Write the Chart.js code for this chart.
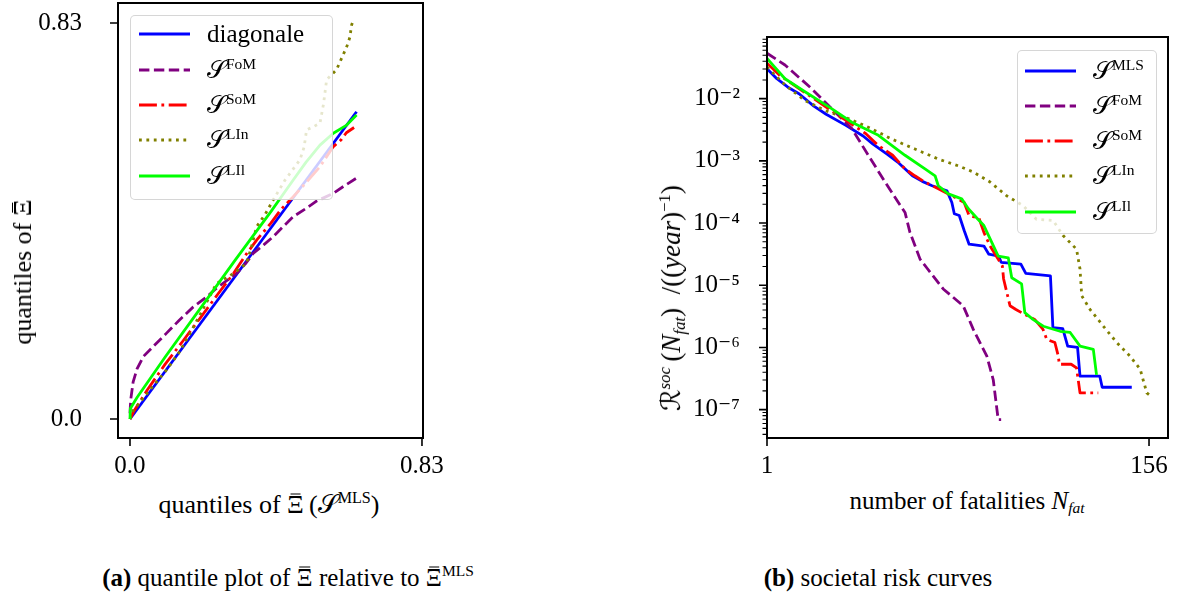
<!DOCTYPE html>
<html>
<head>
<meta charset="utf-8">
<script src="https://cdn.jsdelivr.net/npm/chart.js@4.4.1/dist/chart.umd.min.js"></script>
<style>
  html, body { margin: 0; padding: 0; background: #fff; }
  body { width: 1183px; height: 597px; position: relative; overflow: hidden;
         font-family: 'Liberation Serif', 'DejaVu Serif', serif; color: #000; }
  canvas { position: absolute; }
  .txt { position: absolute; white-space: nowrap; font-size: 25px; line-height: 1;
         transform: translate(-50%, -50%); }
  .rot { transform: translate(-50%, -50%) rotate(-90deg); }
  .legend { position: absolute; background: rgba(255,255,255,0.8);
            border: 1.5px solid rgba(204,204,204,0.8); border-radius: 5px; box-sizing: border-box; }
  .row { position: absolute; left: 0; height: 34px; margin-top: -17px;
         font-size: 25px; white-space: nowrap; line-height: 34px; }
  .row svg { position: absolute; top: 0; }
  .row .lt { position: absolute; top: 0; }
  sup { font-size: 62%; vertical-align: 0.6em; line-height: 0; }
  sub { font-size: 62%; vertical-align: -0.3em; line-height: 0; }
  .scr { font-family: 'DejaVu Serif', 'DejaVu Sans', serif; }
  .ov { position: relative; display: inline-block; line-height: 1; }
  .ov::after { content: ''; position: absolute; left: 18%; right: 18%; top: 0.06em;
               border-top: 1.4px solid #000; }
</style>
</head>
<body>
<canvas id="qq" width="470" height="480" style="left:0;top:0;width:470px;height:480px"></canvas>
<canvas id="risk" width="503" height="480" style="left:680px;top:0;width:503px;height:480px"></canvas>

<div class="txt rot" data-cx="23" data-cy="272" style="font-size:26px">quantiles of <span class="ov">Ξ</span></div>
<div class="txt" data-cx="269" data-cy="504" style="font-size:26px">quantiles of <span class="ov">Ξ</span>&thinsp;(<span class="scr">𝒮</span><sup>MLS</sup>)</div>
<div class="txt rot" data-cx="671" data-cy="298" style="font-size:27px"><span class="scr">ℛ</span><sup><i>soc</i></sup>&thinsp;(<i>N</i><sub><i>fat</i></sub>)&ensp;/((<i>year</i>)<sup>−1</sup>)</div>
<div class="txt" data-cx="967" data-cy="500">number of fatalities <i>N</i><sub><i>fat</i></sub></div>
<div class="txt" data-cx="288" data-cy="577"><b>(a)</b> quantile plot of <span class="ov">Ξ</span> relative to <span class="ov">Ξ</span><sup>MLS</sup></div>
<div class="txt" data-cx="878" data-cy="577"><b>(b)</b> societal risk curves</div>

<div id="legA" class="legend" style="left:130px;top:15px;width:203px;height:185px"></div>
<div id="legB" class="legend" style="left:1017px;top:50px;width:140px;height:184px"></div>

<script>
// ---------- panel (a): quantile plot of Xi-bar against the MLS quantiles ----------
const qTicks = [0, 0.83];
const qTickLabels = ['0.0', '0.83'];

const diagX = [0, 0.644];
const diagY = [0, 0.644];

const fomQX = [0, 0.002, 0.009, 0.02, 0.038, 0.066, 0.104, 0.14, 0.18, 0.218, 0.246, 0.275, 0.303, 0.33, 0.35, 0.38, 0.407, 0.435, 0.464, 0.5, 0.531, 0.555, 0.578, 0.61, 0.644];
const fomQY = [0.012, 0.04, 0.078, 0.105, 0.131, 0.152, 0.18, 0.207, 0.235, 0.256, 0.274, 0.29, 0.305, 0.327, 0.347, 0.365, 0.382, 0.403, 0.424, 0.441, 0.457, 0.465, 0.473, 0.489, 0.505];

const somQX = [0, 0.01, 0.05, 0.1, 0.15, 0.2, 0.25, 0.294, 0.33, 0.36, 0.4, 0.43, 0.459, 0.5, 0.54, 0.578, 0.6, 0.615, 0.637];
const somQY = [0, 0.015, 0.062, 0.115, 0.163, 0.212, 0.262, 0.305, 0.345, 0.375, 0.41, 0.44, 0.462, 0.495, 0.529, 0.571, 0.585, 0.6, 0.611];

const linQX = [0, 0.01, 0.05, 0.104, 0.14, 0.171, 0.2, 0.246, 0.294, 0.331, 0.345, 0.36, 0.385, 0.407, 0.44, 0.483, 0.495, 0.502, 0.52, 0.54, 0.55, 0.559, 0.587, 0.616, 0.625, 0.63, 0.632];
const linQY = [0, 0.019, 0.055, 0.103, 0.14, 0.18, 0.22, 0.284, 0.305, 0.326, 0.36, 0.403, 0.43, 0.459, 0.5, 0.543, 0.57, 0.606, 0.612, 0.62, 0.66, 0.711, 0.732, 0.78, 0.8, 0.826, 0.83];

const lilQX = [0, 0.001, 0.02, 0.1, 0.2, 0.3, 0.4, 0.464, 0.5, 0.54, 0.578, 0.616, 0.644];
const lilQY = [0, 0.022, 0.045, 0.13, 0.232, 0.334, 0.434, 0.501, 0.538, 0.574, 0.599, 0.616, 0.637];

// ---------- panel (b): societal risk curves ----------
const nTicks = [1, 156];
const nTickLabels = ['1', '156'];
const riskDecades = [1e-7, 1e-6, 1e-5, 1e-4, 1e-3, 1e-2];
const riskDecadeLabels = ['10⁻⁷', '10⁻⁶', '10⁻⁵', '10⁻⁴', '10⁻³', '10⁻²'];

const mlsN = [1, 5, 10, 14, 20, 25, 33, 40, 44, 50, 54, 60, 64, 68, 74, 76, 77, 79, 81, 83, 89, 91, 95, 96, 104, 106, 116, 117, 121, 123, 127, 128, 136, 137, 149];
const mlsR = [3.02e-2, 2.09e-2, 1.48e-2, 1.20e-2, 7.59e-3, 5.62e-3, 3.72e-3, 2.51e-3, 1.86e-3, 1.26e-3, 9.55e-4, 5.75e-4, 4.68e-4, 3.98e-4, 3.31e-4, 2.14e-4, 1.41e-4, 1.32e-4, 7.59e-5, 4.57e-5, 4.27e-5, 3.16e-5, 2.95e-5, 2.34e-5, 2.19e-5, 1.55e-5, 1.41e-5, 2.09e-6, 2.00e-6, 1.05e-6, 1.00e-6, 3.47e-7, 3.47e-7, 2.29e-7, 2.29e-7];

const fomN = [1, 8.3, 19.1, 27.2, 35.4, 42.1, 48.9, 54.3, 57, 59, 63.1, 65.8, 72.5, 80.6, 84.7, 90.2, 92.8, 94.8, 96];
const fomR = [5.37e-2, 3.47e-2, 1.45e-2, 6.92e-3, 3.31e-3, 1.23e-3, 4.57e-4, 2.14e-4, 1.48e-4, 7.08e-5, 2.63e-5, 1.91e-5, 8.71e-6, 4.68e-6, 1.95e-6, 7.24e-7, 3.02e-7, 6.92e-8, 6.92e-8];

const somN = [1, 6, 14, 20, 27, 35, 41, 46, 52, 57, 61, 65, 70.5, 76, 81, 83, 87, 89, 91.5, 94, 96.5, 97, 99.6, 102, 105.6, 109.6, 113, 114.5, 117.8, 119.2, 119.6, 124.4, 126.6, 128, 135.4];
const somR = [3.72e-2, 2.40e-2, 1.45e-2, 1.00e-2, 6.46e-3, 3.98e-3, 2.75e-3, 1.78e-3, 1.23e-3, 7.41e-4, 5.75e-4, 4.57e-4, 3.55e-4, 2.75e-4, 2.14e-4, 1.32e-4, 1.20e-4, 7.08e-5, 4.27e-5, 2.95e-5, 2.04e-5, 1.26e-5, 4.68e-6, 4.07e-6, 3.39e-6, 2.82e-6, 1.95e-6, 1.35e-6, 1.20e-6, 7.24e-7, 5.37e-7, 5.37e-7, 4.68e-7, 1.86e-7, 1.86e-7];

const linN = [1, 8.3, 16.4, 24.5, 34, 42.1, 51.6, 61, 70.5, 78.6, 84.7, 91.5, 98.2, 104.9, 110.3, 117.1, 121.1, 126.6, 128, 128.7, 132.1, 137.5, 142.9, 148.3, 152.4, 155.1, 156];
const linR = [3.24e-2, 1.66e-2, 9.33e-3, 6.46e-3, 4.79e-3, 3.47e-3, 2.24e-3, 1.55e-3, 1.07e-3, 8.32e-4, 6.61e-4, 4.57e-4, 2.75e-4, 1.91e-4, 1.15e-4, 1.10e-4, 6.31e-5, 3.80e-5, 1.82e-5, 6.76e-6, 4.07e-6, 2.19e-6, 1.20e-6, 7.24e-7, 4.47e-7, 1.86e-7, 1.74e-7];

const lilN = [1, 8.3, 16.4, 27.2, 35.4, 46.2, 57, 65.1, 69.2, 70.5, 74.6, 80, 82.7, 86.6, 89, 92.2, 94.8, 98.9, 100.3, 104.3, 105.6, 108.9, 113.1, 119.9, 124, 128, 133.4, 134.7];
const lilR = [4.42e-2, 2.09e-2, 1.29e-2, 6.92e-3, 4.17e-3, 2.57e-3, 1.23e-3, 7.41e-4, 5.75e-4, 3.98e-4, 2.95e-4, 2.45e-4, 1.70e-4, 1.15e-4, 9.12e-5, 4.90e-5, 2.95e-5, 2.75e-5, 1.32e-5, 1.05e-5, 3.63e-6, 2.82e-6, 2.19e-6, 1.82e-6, 1.74e-6, 1.05e-6, 9.33e-7, 3.63e-7];

// ---------- line styles ----------
const LW = 2.8;
const styles = {
  mls: { color: '#0000ff', dash: [] },
  fom: { color: '#800080', dash: [10.4, 4.5] },
  som: { color: '#ff0000', dash: [17.9, 4.5, 2.8, 4.5] },
  lin: { color: '#808000', dash: [2.8, 4.6] },
  lil: { color: '#00ff00', dash: [] }
};

const FONT = "'Liberation Serif', 'DejaVu Serif', serif";

function series(xs, ys, st, label, order) {
  return {
    label,
    data: xs.map((x, i) => ({ x, y: ys[i] })),
    borderColor: st.color,
    borderDash: st.dash,
    borderWidth: LW,
    borderCapStyle: 'butt',
    borderJoinStyle: 'round',
    pointRadius: 0,
    fill: false,
    tension: 0,
    order
  };
}

// frame around the plot area plus outward tick marks (major and, on log axes, minor)
const frameAndTicks = {
  id: 'frameAndTicks',
  afterDraw(chart, args, opts) {
    const { ctx, chartArea: a, scales } = chart;
    ctx.save();
    ctx.strokeStyle = '#000';
    ctx.lineWidth = 1.6;
    ctx.beginPath();
    (opts.xMajor || []).forEach(v => {
      const p = scales.x.getPixelForValue(v);
      ctx.moveTo(p, a.bottom); ctx.lineTo(p, a.bottom + 8);
    });
    (opts.yMajor || []).forEach(v => {
      const p = scales.y.getPixelForValue(v);
      ctx.moveTo(a.left - 8, p); ctx.lineTo(a.left, p);
    });
    ctx.stroke();
    if (opts.yLogMinor) {
      ctx.lineWidth = 1.1;
      ctx.beginPath();
      const s = scales.y;
      for (let k = -9; k <= 0; k++) {
        for (let m = 2; m <= 9; m++) {
          const v = m * Math.pow(10, k);
          if (v < s.min || v > s.max) continue;
          const p = s.getPixelForValue(v);
          ctx.moveTo(a.left - 4.5, p); ctx.lineTo(a.left, p);
        }
      }
      ctx.stroke();
    }
    ctx.lineWidth = 2;
    ctx.strokeRect(a.left, a.top, a.right - a.left, a.bottom - a.top);
    ctx.restore();
  }
};

function fixedAxis(size, vertical) {
  return s => {
    if (vertical) { s.width = size; s.paddingTop = 0; s.paddingBottom = 0; }
    else { s.height = size; s.paddingLeft = 0; s.paddingRight = 0; }
  };
}

// ---------- chart (a) ----------
const qqSets = [
  series(diagX, diagY, styles.mls, 'diagonale', 5),
  series(fomQX, fomQY, styles.fom, 'FoM', 4),
  series(somQX, somQY, styles.som, 'SoM', 3),
  series(linQX, linQY, styles.lin, 'LIn', 2),
  series(lilQX, lilQY, styles.lil, 'LIl', 1)
];

new Chart(document.getElementById('qq'), {
  type: 'line',
  data: { datasets: qqSets },
  plugins: [frameAndTicks],
  options: {
    responsive: false, animation: false, devicePixelRatio: 1,
    layout: { padding: { top: 3, right: 47, left: 0, bottom: 0 } },
    plugins: { legend: { display: false }, tooltip: { enabled: false },
               frameAndTicks: { xMajor: qTicks, yMajor: qTicks } },
    scales: {
      x: {
        type: 'linear', min: -0.0341, max: 0.8329, bounds: 'data',
        grid: { display: false }, border: { display: false },
        afterBuildTicks: s => { s.ticks = qTicks.map(v => ({ value: v })); },
        afterFit: fixedAxis(42, false),
        ticks: { color: '#000', padding: 5, maxRotation: 0, autoSkip: false,
                 font: { family: FONT, size: 25 },
                 callback: (v, i) => qTickLabels[i] }
      },
      y: {
        type: 'linear', min: -0.0398, max: 0.8719, bounds: 'data',
        grid: { display: false }, border: { display: false },
        afterBuildTicks: s => { s.ticks = qTicks.map(v => ({ value: v })); },
        afterFit: fixedAxis(118, true),
        ticks: { color: '#000', padding: 28, autoSkip: false,
                 font: { family: FONT, size: 25 },
                 callback: (v, i) => qTickLabels[i] }
      }
    }
  }
});

// ---------- chart (b) ----------
const riskSets = [
  series(mlsN, mlsR, styles.mls, 'MLS', 5),
  series(fomN, fomR, styles.fom, 'FoM', 4),
  series(somN, somR, styles.som, 'SoM', 3),
  series(linN, linR, styles.lin, 'LIn', 2),
  series(lilN, lilR, styles.lil, 'LIl', 1)
];

new Chart(document.getElementById('risk'), {
  type: 'line',
  data: { datasets: riskSets },
  plugins: [frameAndTicks],
  options: {
    responsive: false, animation: false, devicePixelRatio: 1,
    layout: { padding: { top: 37, right: 15, left: 0, bottom: 0 } },
    plugins: { legend: { display: false }, tooltip: { enabled: false },
               frameAndTicks: { xMajor: nTicks, yMajor: riskDecades, yLogMinor: true } },
    scales: {
      x: {
        type: 'linear', min: 1, max: 163.7, bounds: 'data',
        grid: { display: false }, border: { display: false },
        afterBuildTicks: s => { s.ticks = nTicks.map(v => ({ value: v })); },
        afterFit: fixedAxis(42, false),
        ticks: { color: '#000', padding: 5, maxRotation: 0, autoSkip: false,
                 font: { family: FONT, size: 25 },
                 callback: (v, i) => nTickLabels[i] }
      },
      y: {
        type: 'logarithmic', min: 3.5e-8, max: 0.098, bounds: 'data',
        grid: { display: false }, border: { display: false },
        afterBuildTicks: s => { s.ticks = riskDecades.map(v => ({ value: v })); },
        afterFit: fixedAxis(87, true),
        ticks: { color: '#000', padding: 19, autoSkip: false,
                 font: { family: FONT, size: 25 },
                 callback: (v, i) => riskDecadeLabels[i] }
      }
    }
  }
});

// ---------- legends (drawn over the plot with a translucent white box) ----------
function legendRows(boxId, sets, names, rowYs, lineX, textX) {
  const box = document.getElementById(boxId);
  sets.forEach((ds, i) => {
    const row = document.createElement('div');
    row.className = 'row';
    row.style.top = rowYs[i] + 'px';
    const w = 51;
    const svg = `<svg width="${w}" height="34" style="left:${lineX}px"><line x1="0" y1="17" x2="${w}" y2="17" stroke="${ds.borderColor}" stroke-width="${LW}" stroke-dasharray="${ds.borderDash.join(' ')}"/></svg>`;
    row.innerHTML = svg + `<span class="lt" style="left:${textX}px">${names[i]}</span>`;
    box.appendChild(row);
  });
}
const S = name => `<span class="scr">𝒮</span><sup>${name}</sup>`;
legendRows('legA', qqSets, ['diagonale', S('FoM'), S('SoM'), S('LIn'), S('LIl')],
           [18, 54, 89, 124, 160], 8, 76);
legendRows('legB', riskSets, [S('MLS'), S('FoM'), S('SoM'), S('LIn'), S('LIl')],
           [20, 55, 90, 125, 161], 7, 75);

// ---------- place the axis titles and captions by their centres ----------
function centerTexts() {
  document.querySelectorAll('.txt').forEach(el => {
    const cx = +el.dataset.cx, cy = +el.dataset.cy;
    el.style.left = cx + 'px';
    el.style.top = cy + 'px';
    const r = el.getBoundingClientRect();
    el.style.left = (2 * cx - (r.left + r.width / 2)) + 'px';
    el.style.top = (2 * cy - (r.top + r.height / 2)) + 'px';
  });
}
centerTexts();
if (document.fonts && document.fonts.ready) document.fonts.ready.then(centerTexts);
</script>
</body>
</html>
